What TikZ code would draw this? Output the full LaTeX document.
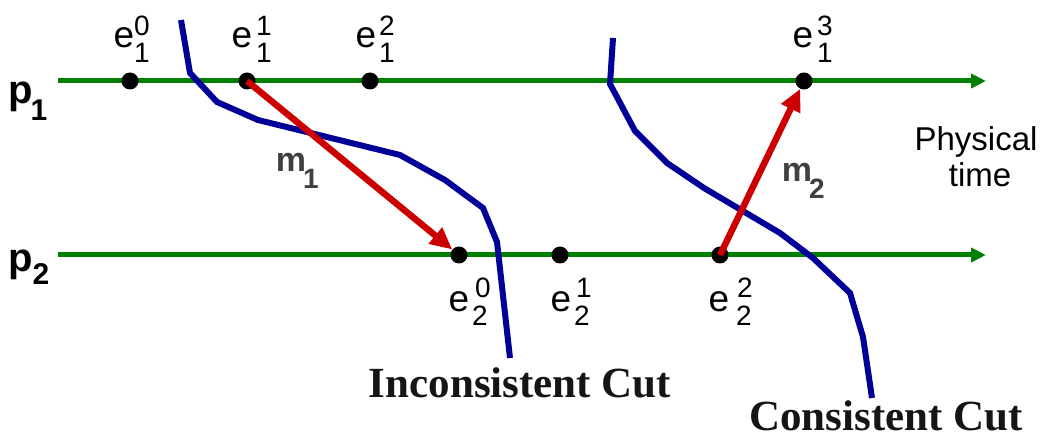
\documentclass[tikz,border=0pt]{standalone}
\usepackage{fontspec}
\setmainfont{Liberation Sans}
\newfontfamily\timesbold{Liberation Serif}
\usetikzlibrary{arrows.meta}
\definecolor{tgreen}{HTML}{008000}
\definecolor{tblue}{HTML}{000099}
\definecolor{tred}{HTML}{CC0000}
\definecolor{tgray}{HTML}{404040}
\definecolor{tblack}{HTML}{151515}
\begin{document}
\begin{tikzpicture}[x=1pt,y=-1pt,
  timeline/.style={draw=tgreen,line width=5pt,-{Triangle[length=15pt,width=14pt]}},
  cutline/.style={draw=tblue,line width=6pt,line join=miter},
  msg/.style={draw=tred,line width=6.5pt,-{Triangle[length=22pt,width=20pt]}},
  evdot/.style={circle,fill=black,inner sep=0,minimum size=17pt},
  elab/.style={inner sep=0,font=\fontsize{37}{38}\selectfont},
  dlab/.style={inner sep=0,font=\fontsize{28}{30}\selectfont},
  plab/.style={inner sep=0,font=\fontsize{40}{42}\selectfont\bfseries},
  psub/.style={inner sep=0,font=\fontsize{30}{32}\selectfont\bfseries},
  mlab/.style={inner sep=0,text=tgray,font=\fontsize{34}{36}\selectfont\bfseries},
  msub/.style={inner sep=0,text=tgray,font=\fontsize{28}{30}\selectfont\bfseries},
  cutlab/.style={inner sep=0,anchor=base,text=tblack,font=\fontsize{43}{45}\selectfont\timesbold\bfseries},
  ptime/.style={inner sep=0,anchor=base,font=\fontsize{33}{35}\selectfont}]
\useasboundingbox (0,0) rectangle (1042,438);

% process lines
\coordinate (p1s) at (58,81);
\coordinate (p1e) at (986,81);
\coordinate (p2s) at (58,255);
\coordinate (p2e) at (986,255);
\draw[timeline] (p1s) -- (p1e);
\draw[timeline] (p2s) -- (p2e);

% cuts
\draw[cutline] (181,20) -- (190,73) -- (217,102) -- (258,120) -- (400,155) -- (445,180) -- (483,208) -- (497,242) -- (510,358);
\draw[cutline] (613,38) -- (610,84) -- (635,131) -- (667,163) -- (704,188) -- (780,233) -- (813,258) -- (850,293) -- (863,337) -- (872,398);

% events
\node[evdot] (e10) at (130,81) {};
\node[evdot] (e11) at (247,81) {};
\node[evdot] (e12) at (370,81) {};
\node[evdot] (e13) at (804,81) {};
\node[evdot] (e20) at (459,255) {};
\node[evdot] (e21) at (560,255) {};
\node[evdot] (e22) at (720,255) {};

% messages
\draw[msg] (e11.center) -- (e20);
\draw[msg] (e22.center) -- (e13);

% event labels p1
\node[elab] (l10e) at (124,38) {e};
\node[dlab] (l10a) at (142,26) {0};
\node[dlab] (l10b) at (142,53) {1};
\node[elab] (l11e) at (242,38) {e};
\node[dlab] (l11a) at (264,26) {1};
\node[dlab] (l11b) at (264,53) {1};
\node[elab] (l12e) at (366,38) {e};
\node[dlab] (l12a) at (387,26) {2};
\node[dlab] (l12b) at (387,53) {1};
\node[elab] (l13e) at (803,38) {e};
\node[dlab] (l13a) at (825,26) {3};
\node[dlab] (l13b) at (825,53) {1};

% event labels p2
\node[elab] (l20e) at (459,302) {e};
\node[dlab] (l20a) at (483,288) {0};
\node[dlab] (l20b) at (480,316) {2};
\node[elab] (l21e) at (561,302) {e};
\node[dlab] (l21a) at (584,288) {1};
\node[dlab] (l21b) at (582,316) {2};
\node[elab] (l22e) at (719,302) {e};
\node[dlab] (l22a) at (745,288) {2};
\node[dlab] (l22b) at (744,316) {2};

% process labels
\node[plab] (p1l) at (21,97) {p};
\node[psub] (p1n) at (39,110) {1};
\node[plab] (p2l) at (21,265) {p};
\node[psub] (p2n) at (41,274) {2};

% message labels
\node[mlab] (m1l) at (291,162) {m};
\node[msub] (m1n) at (311,179) {1};
\node[mlab] (m2l) at (797,172) {m};
\node[msub] (m2n) at (817,189) {2};

% physical time
\node[ptime] (pt1) at (976,151) {Physical};
\node[ptime] (pt2) at (980,187) {time};

% cut labels
\node[cutlab] (icut) at (520,397) {Inconsistent Cut};
\node[cutlab] (ccut) at (886,430) {Consistent Cut};
\end{tikzpicture}
\end{document}
